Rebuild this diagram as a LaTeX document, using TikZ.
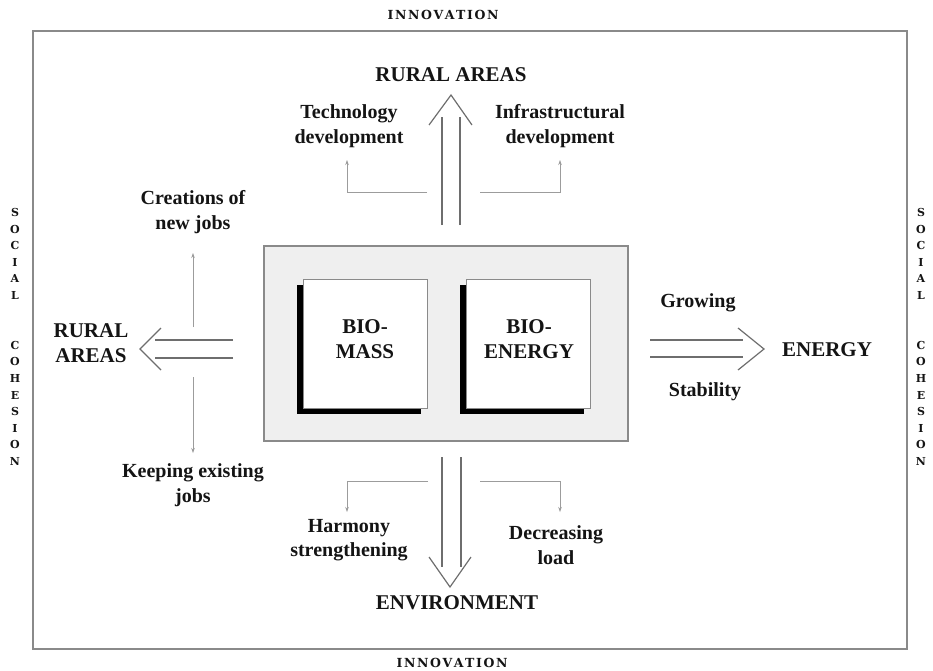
\documentclass[tikz,border=0pt]{standalone}
\usepackage{fontspec}
\setmainfont{Liberation Serif}
\newfontfamily\slab{DejaVu Serif}
\usetikzlibrary{arrows.meta}
\definecolor{framec}{HTML}{8a8a8a}
\definecolor{arr}{HTML}{6e6e6e}
\definecolor{thinc}{HTML}{9c9c9c}
\definecolor{txt}{HTML}{141414}
\definecolor{boxfill}{HTML}{efefef}
\tikzset{
 lbl/.style={font=\bfseries\fontsize{20}{24.5}\selectfont, text=txt, align=center, inner sep=0pt},
 capl/.style={font=\bfseries\fontsize{21}{24.5}\selectfont, text=txt, align=center, inner sep=0pt},
 sidel/.style={font=\slab\bfseries\fontsize{11}{16.6}\selectfont, text=txt, align=center, inner sep=0pt},
 topl/.style={font=\slab\bfseries\fontsize{12.5}{15}\selectfont, text=txt, inner sep=0pt},
 dbl/.style={draw=arr, line width=1.2pt},
 vhead/.style={draw=arr, line width=1.2pt, line join=miter},
 thinarr/.style={draw=thinc, line width=0.6pt, -{Stealth[length=5pt,width=3.5pt]}},
 sq/.style={draw=framec, fill=white, line width=0.7pt, minimum width=124pt, minimum height=129pt, inner sep=0pt},
}
\newcommand{\lsp}{\hspace{1.6pt}}
\begin{document}
\begin{tikzpicture}[x=1pt,y=-1pt]
\useasboundingbox (0,0) rectangle (933,670);
% outer frame
\draw[framec, line width=1.5pt] (33,31) rectangle (907,649);
% titles
\node[topl] (innTop) at (443,15) {I\lsp N\lsp N\lsp O\lsp V\lsp A\lsp T\lsp I\lsp O\lsp N};
\node[topl] (innBot) at (452,663) {I\lsp N\lsp N\lsp O\lsp V\lsp A\lsp T\lsp I\lsp O\lsp N};
\node[sidel] (scL) at (15,337) {S\\O\\C\\I\\A\\L\\\mbox{}\\\mbox{}\\C\\O\\H\\E\\S\\I\\O\\N};
\node[sidel] (scR) at (921,337) {S\\O\\C\\I\\A\\L\\\mbox{}\\\mbox{}\\C\\O\\H\\E\\S\\I\\O\\N};
% central box
\draw[framec, fill=boxfill, line width=1.2pt] (264,246) rectangle (628,441);
\fill[black] (297,285) rectangle (421,414);
\fill[black] (460,285) rectangle (584,414);
\node[sq] (bm) at (365,343.5) {};
\node[sq] (be) at (528,343.5) {};
\node[capl] (bmT) at (365,339) {BIO-\\MASS};
\node[capl] (beT) at (529,339) {BIO-\\ENERGY};
% up arrow
\coordinate (u1a) at (442,225); \coordinate (u1b) at (442,117);
\coordinate (u2a) at (460,225); \coordinate (u2b) at (460,117);
\coordinate (uL) at (429,125); \coordinate (uA) at (451,95); \coordinate (uR) at (472,125);
\draw[dbl] (u1a) -- (u1b); \draw[dbl] (u2a) -- (u2b);
\draw[vhead] (uL) -- (uA) -- (uR);
% down arrow
\coordinate (d1a) at (442,457); \coordinate (d1b) at (442,567);
\coordinate (d2a) at (461,457); \coordinate (d2b) at (461,567);
\coordinate (dL) at (429,557); \coordinate (dA) at (450,587); \coordinate (dR) at (471,557);
\draw[dbl] (d1a) -- (d1b); \draw[dbl] (d2a) -- (d2b);
\draw[vhead] (dL) -- (dA) -- (dR);
% left arrow
\coordinate (l1a) at (233,340); \coordinate (l1b) at (155,340);
\coordinate (l2a) at (233,358); \coordinate (l2b) at (155,358);
\coordinate (lT) at (161,328); \coordinate (lA) at (140,349); \coordinate (lB) at (161,370);
\draw[dbl] (l1a) -- (l1b); \draw[dbl] (l2a) -- (l2b);
\draw[vhead] (lT) -- (lA) -- (lB);
% right arrow
\coordinate (r1a) at (650,340); \coordinate (r1b) at (743,340);
\coordinate (r2a) at (650,357); \coordinate (r2b) at (743,357);
\coordinate (rT) at (738,328); \coordinate (rA) at (764,349); \coordinate (rB) at (738,370);
\draw[dbl] (r1a) -- (r1b); \draw[dbl] (r2a) -- (r2b);
\draw[vhead] (rT) -- (rA) -- (rB);
% thin arrows
\coordinate (t1s) at (427,192); \coordinate (t1e) at (347,160);
\coordinate (t2s) at (480,192); \coordinate (t2e) at (560,160);
\coordinate (t3s) at (193,327); \coordinate (t3e) at (193,253);
\coordinate (t4s) at (193,377); \coordinate (t4e) at (193,453);
\coordinate (t5s) at (428,481); \coordinate (t5e) at (347,512);
\coordinate (t6s) at (480,481); \coordinate (t6e) at (560,512);
\draw[thinarr] (t1s) -| (t1e);
\draw[thinarr] (t2s) -| (t2e);
\draw[thinarr] (t3s) -- (t3e);
\draw[thinarr] (t4s) -- (t4e);
\draw[thinarr] (t5s) -| (t5e);
\draw[thinarr] (t6s) -| (t6e);
% labels
\node[capl] (ruralTop) at (451,75) {RURAL AREAS};
\node[lbl] (tech) at (349,126) {Technology\\development};
\node[lbl] (infra) at (560,126) {Infrastructural\\development};
\node[lbl] (jobsNew) at (193,212) {Creations of\\new jobs};
\node[capl] (ruralLeft) at (91,343) {RURAL\\AREAS};
\node[lbl] (jobsKeep) at (193,485) {Keeping existing\\jobs};
\node[lbl] (grow) at (698,303) {Growing};
\node[lbl] (stab) at (705,392) {Stability};
\node[capl] (energy) at (827,350) {ENERGY};
\node[lbl] (harm) at (349,540) {Harmony\\strengthening};
\node[lbl] (decr) at (556,545) {Decreasing\\load};
\node[capl] (env) at (457,603) {ENVIRONMENT};
\end{tikzpicture}
\end{document}
